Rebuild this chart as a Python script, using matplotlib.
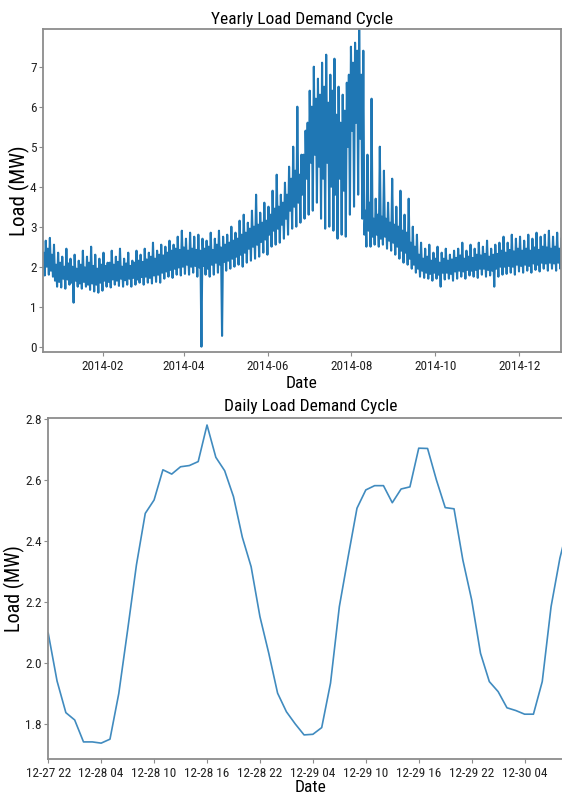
import pandas as pd
import matplotlib
matplotlib.use("Agg")
import matplotlib.pyplot as plt
import matplotlib.dates as mdates

# yearly cycle: 3-day bins from 2013-12-19 (MW)
# outer envelope (lowest / highest spike) of each bin
year_start = "2013-12-19"
bin_lows = [
    1.78, 1.80, 1.75, 1.50, 1.48, 1.45, 1.55, 1.10, 1.50, 1.45,
    1.50, 1.42, 1.38, 1.35, 1.40, 1.50, 1.48, 1.55, 1.52, 1.50,
    1.55, 1.50, 1.55, 1.60, 1.55, 1.60, 1.58, 1.62, 1.60, 1.70,
    1.75, 1.72, 1.80, 1.78, 1.82, 1.80, 1.85, 1.75, 0.00, 1.80,
    1.75, 1.80, 1.85, 0.27, 1.90, 1.95, 2.00, 2.05, 2.00, 2.10,
    2.15, 2.20, 2.25, 2.35, 2.30, 2.50, 2.55, 2.60, 2.70, 2.80,
    2.95, 3.00, 3.10, 3.20, 3.30, 3.40, 3.60, 3.20, 2.95, 3.00,
    2.90, 2.70, 2.80, 2.75, 3.30, 3.50, 3.80, 3.20, 2.50, 2.50,
    2.55, 2.50, 2.55, 2.45, 2.40, 2.30, 2.20, 2.10, 2.05, 1.95,
    1.85, 1.75, 1.72, 1.70, 1.65, 1.70, 1.50, 1.68, 1.70, 1.65,
    1.70, 1.75, 1.70, 1.78, 1.75, 1.72, 1.80, 1.75, 1.78, 1.50,
    1.75, 1.80, 1.82, 1.85, 1.80, 1.88, 1.85, 1.90, 1.85, 1.92,
    1.88, 1.95, 1.90, 1.95, 1.90, 1.95,
]
bin_highs = [
    2.65, 2.72, 2.55, 2.35, 2.25, 2.45, 2.20, 2.30, 2.15, 2.40,
    2.25, 2.50, 2.30, 2.20, 2.35, 2.10, 2.40, 2.25, 2.45, 2.20,
    2.35, 2.15, 2.40, 2.30, 2.45, 2.35, 2.60, 2.40, 2.55, 2.50,
    2.65, 2.55, 2.75, 2.90, 2.70, 2.85, 2.75, 2.80, 2.70, 2.65,
    2.85, 2.70, 2.90, 2.75, 2.80, 3.00, 2.85, 3.15, 3.30, 3.10,
    3.40, 3.80, 3.35, 3.60, 3.50, 3.90, 4.30, 3.80, 4.10, 4.50,
    5.00, 6.00, 4.80, 5.40, 6.40, 7.00, 6.70, 7.10, 7.30, 6.80,
    7.20, 6.50, 6.30, 6.60, 7.50, 7.60, 7.93, 7.40, 4.80, 6.20,
    3.70, 5.00, 4.40, 3.60, 4.20, 3.50, 3.90, 3.30, 3.70, 3.00,
    2.80, 2.60, 2.45, 2.55, 2.35, 2.50, 2.35, 2.45, 2.30, 2.40,
    2.45, 2.60, 2.40, 2.55, 2.45, 2.60, 2.50, 2.65, 2.45, 2.55,
    2.60, 2.75, 2.60, 2.80, 2.70, 2.75, 2.65, 2.80, 2.70, 2.85,
    2.75, 2.80, 2.90, 2.75, 2.85, 2.70,
]
# inner (dense core) low / high of each bin
core_lows = [
    1.95, 2.00, 1.90, 1.65, 1.62, 1.70, 1.68, 1.60, 1.65, 1.58,
    1.62, 1.55, 1.58, 1.55, 1.60, 1.65, 1.62, 1.68, 1.65, 1.70,
    1.66, 1.70, 1.72, 1.68, 1.74, 1.75, 1.72, 1.78, 1.80, 1.85,
    1.88, 1.92, 1.95, 1.98, 2.00, 2.05, 2.00, 2.02, 1.98, 2.02,
    1.95, 2.05, 2.10, 2.05, 2.12, 2.15, 2.20, 2.25, 2.30, 2.35,
    2.45, 2.50, 2.55, 2.62, 2.68, 2.80, 2.90, 2.95, 3.05, 3.20,
    3.40, 3.50, 3.60, 3.80, 4.20, 4.60, 4.80, 4.50, 4.20, 4.60,
    4.00, 3.80, 4.20, 3.90, 5.00, 5.40, 5.60, 5.20, 2.80, 2.90,
    2.75, 2.80, 2.70, 2.75, 2.65, 2.60, 2.50, 2.40, 2.35, 2.20,
    2.05, 1.95, 1.90, 1.85, 1.82, 1.85, 1.80, 1.85, 1.85, 1.82,
    1.88, 1.90, 1.88, 1.92, 1.90, 1.92, 1.95, 1.95, 1.92, 1.90,
    1.95, 2.00, 2.00, 2.02, 2.00, 2.05, 2.02, 2.05, 2.02, 2.08,
    2.05, 2.10, 2.08, 2.10, 2.08, 2.10,
]
core_highs = [
    2.35, 2.45, 2.30, 2.05, 2.10, 2.00, 2.08, 2.00, 1.95, 2.05,
    1.98, 2.10, 2.02, 1.95, 2.05, 2.02, 2.10, 2.05, 2.12, 2.00,
    2.08, 2.02, 2.10, 2.15, 2.12, 2.18, 2.25, 2.20, 2.30, 2.28,
    2.35, 2.40, 2.45, 2.42, 2.48, 2.40, 2.45, 2.42, 2.40, 2.45,
    2.50, 2.42, 2.55, 2.48, 2.55, 2.60, 2.65, 2.70, 2.80, 2.85,
    2.95, 3.00, 3.05, 3.10, 3.15, 3.30, 3.45, 3.50, 3.60, 3.80,
    4.20, 4.40, 4.30, 4.80, 5.60, 6.00, 6.20, 6.30, 6.50, 6.10,
    6.40, 5.80, 5.60, 5.90, 6.80, 7.10, 7.40, 6.80, 3.40, 3.60,
    3.20, 3.30, 3.25, 3.20, 3.10, 3.05, 3.00, 2.90, 2.85, 2.60,
    2.50, 2.30, 2.20, 2.25, 2.15, 2.20, 2.10, 2.20, 2.15, 2.18,
    2.22, 2.28, 2.20, 2.25, 2.22, 2.30, 2.28, 2.32, 2.25, 2.30,
    2.32, 2.40, 2.35, 2.42, 2.38, 2.45, 2.40, 2.45, 2.40, 2.48,
    2.42, 2.50, 2.48, 2.45, 2.50, 2.45,
]

# daily cycle: hourly load from 2014-12-27 22:00 (MW)
day_start = "2014-12-27 22:00"
day_load = [
    2.098, 1.941, 1.837, 1.813, 1.741, 1.741, 1.737, 1.750, 1.900, 2.108,
    2.322, 2.491, 2.535, 2.634, 2.620, 2.644, 2.648, 2.661, 2.781, 2.675,
    2.631, 2.546, 2.413, 2.316, 2.152, 2.032, 1.901, 1.840, 1.800, 1.764,
    1.766, 1.788, 1.934, 2.185, 2.349, 2.508, 2.568, 2.582, 2.582, 2.526,
    2.571, 2.578, 2.705, 2.704, 2.601, 2.510, 2.506, 2.338, 2.207, 2.032,
    1.939, 1.906, 1.853, 1.844, 1.832, 1.832, 1.939, 2.185, 2.344, 2.460,
]


def yearly_series():
    starts = pd.Timestamp(year_start) + pd.to_timedelta([3 * k for k in range(len(bin_lows))], unit="D")
    times, vals = [], []
    for s, lo2, hi2, lo, hi in zip(starts, core_lows, core_highs, bin_lows, bin_highs):
        times += [s + pd.Timedelta(hours=h) for h in (9, 27, 45, 63)]
        vals += [lo2, hi2, lo, hi]
    return pd.Series(vals, index=times)


def style_axes(ax):
    for sp in ax.spines.values():
        sp.set_color("#8c8c8c")
        sp.set_linewidth(1.3)
    ax.tick_params(labelsize=9.5, color="#8c8c8c", labelcolor="#222222", length=3)
    ax.tick_params(axis="y", pad=1.5)
    ax.tick_params(axis="x", pad=3)


def main():
    plt.rcParams["font.family"] = ["Liberation Sans Narrow", "Roboto Condensed", "DejaVu Sans"]

    fig = plt.figure(figsize=(5.62, 7.98), dpi=100)

    # yearly
    ax1 = fig.add_axes([0.076, 0.5593, 0.922, 0.404])
    yearly = yearly_series()
    ax1.plot(yearly.index, yearly.values, color="#1f77b4", linewidth=1.5)
    ax1.set_xlim(pd.Timestamp("2013-12-19 10:00"), pd.Timestamp("2014-12-31 08:00"))
    ax1.set_ylim(-0.125, 7.935)
    ax1.set_yticks(range(0, 8))
    ax1.xaxis.set_major_locator(mdates.MonthLocator(bymonth=[2, 4, 6, 8, 10, 12]))
    ax1.xaxis.set_major_formatter(mdates.DateFormatter("%Y-%m"))
    ax1.set_title("Yearly Load Demand Cycle", fontsize=12.5, pad=4)
    ax1.set_xlabel("Date", fontsize=12.5, labelpad=2)
    ax1.set_ylabel("Load (MW)", fontsize=15)
    ax1.yaxis.set_label_coords(-0.025, 0.5)
    style_axes(ax1)

    # daily
    ax2 = fig.add_axes([0.0858, 0.0489, 0.934, 0.4269])
    hours = pd.date_range(day_start, periods=len(day_load), freq="h")
    ax2.plot(hours, day_load, color="#1f77b4", linewidth=1.2, alpha=0.85)
    ax2.set_xlim(pd.Timestamp(day_start), pd.Timestamp("2014-12-30 09:30"))
    ax2.set_ylim(1.685, 2.803)
    ax2.set_yticks([1.8, 2.0, 2.2, 2.4, 2.6, 2.8])
    ax2.xaxis.set_major_locator(mdates.HourLocator(byhour=[4, 10, 16, 22]))
    ax2.xaxis.set_major_formatter(mdates.DateFormatter("%m-%d %H"))
    ax2.set_title("Daily Load Demand Cycle", fontsize=12.5, pad=5)
    ax2.set_xlabel("Date", fontsize=12.5, labelpad=0)
    ax2.set_ylabel("Load (MW)", fontsize=14.5)
    ax2.yaxis.set_label_coords(-0.044, 0.5)
    style_axes(ax2)

    fig.savefig("out.png", dpi=100)


if __name__ == "__main__":
    main()
